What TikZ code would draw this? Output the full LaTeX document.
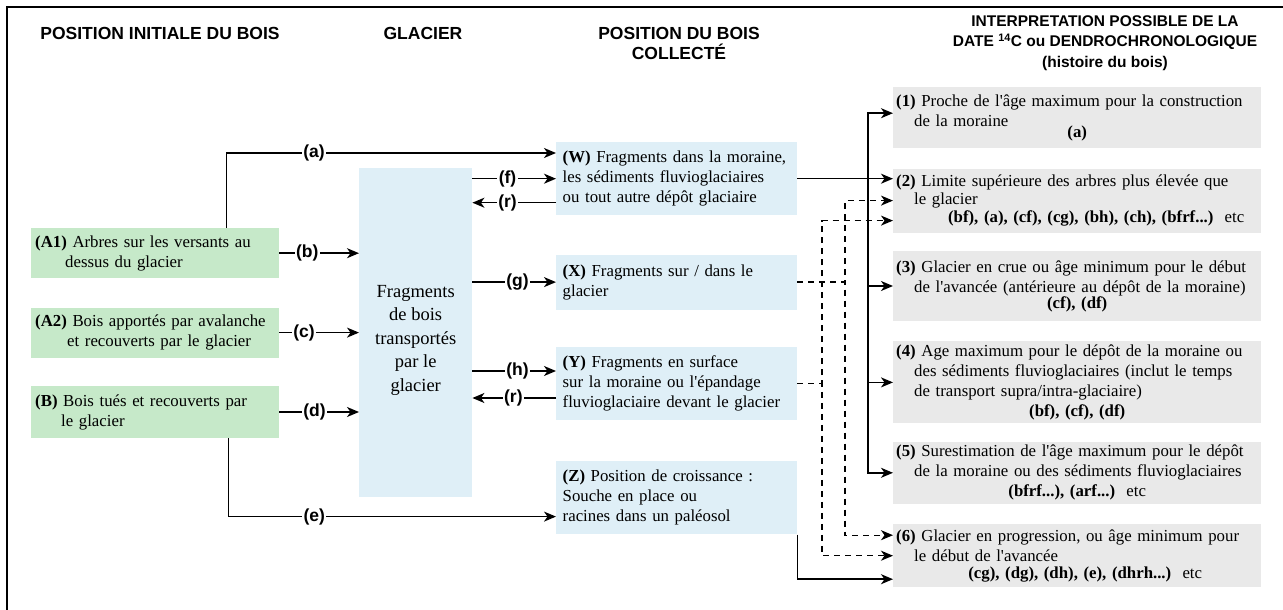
\documentclass[tikz,border=0pt]{standalone}
\usepackage{fontspec}
\setmainfont{Liberation Serif}
\setsansfont{Liberation Sans}
\usepackage{tikz}
\usetikzlibrary{arrows.meta}
\usetikzlibrary{positioning}
\definecolor{boisvert}{RGB}{198,233,201}
\definecolor{glacbleu}{RGB}{223,239,247}
\definecolor{interpgris}{RGB}{233,233,233}
\newcommand{\boxfont}{\fontsize{16.8}{20}\selectfont}
\newcommand{\glacfont}{\fontsize{18.5}{23.5}\selectfont}
\newcommand{\hdfont}{\sffamily\bfseries\fontsize{17.5}{20}\selectfont}
\newcommand{\hdsmall}{\sffamily\bfseries\fontsize{15.5}{20.5}\selectfont}
\newcommand{\labfont}{\sffamily\bfseries\fontsize{17.5}{20}\selectfont}
\newcommand{\apo}{\textquotesingle}
\tikzstyle{entete} = [font=\hdfont, align=center]
\tikzstyle{origine} = [fill=boisvert, text width=240pt, inner xsep=4pt,
    inner ysep=1pt, minimum height=50pt, align=left, font=\boxfont]
\tikzstyle{collecte} = [fill=glacbleu, text width=228pt, inner xsep=6.5pt,
    inner ysep=1pt, align=left, font=\boxfont]
\tikzstyle{interp} = [fill=interpgris, text width=362pt, inner xsep=3pt,
    inner ysep=1pt, align=left, font=\boxfont]
\tikzstyle{lab} = [font=\labfont, fill=white, inner sep=1.5pt]
\tikzstyle{arrow} = [line width=1.5pt,->]
\tikzstyle{dasharrow} = [line width=1.3pt,->,dash pattern=on 6pt off 5pt]

\begin{document}
\begin{tikzpicture}[x=1pt, y=-1pt, node distance=20pt,
    >={Stealth[length=12pt,width=10pt,inset=3.5pt]}]
\useasboundingbox (0,0) rectangle (1283,610);
\draw [line width=2.2pt] (7,7) rectangle (1300,630);

\node [entete] (tInit) at (160,33) {POSITION INITIALE DU BOIS};
\node [entete] (tGlac) at (423,33) {GLACIER};
\node [entete] (tColl) at (679,43) {POSITION DU BOIS\\COLLECTÉ};
\node [entete, font=\hdsmall] (tInterp) at (1105,43)
    {INTERPRETATION POSSIBLE DE LA\\DATE \textsuperscript{14}C ou DENDROCHRONOLOGIQUE\\(histoire du bois)};

\node [origine, anchor=north west] (A1) at (31,228)
    {\textbf{(A1)} Arbres sur les versants au\\\hspace*{30pt}dessus du glacier};
\node [origine, below=29pt of A1] (A2)
    {\textbf{(A2)} Bois apportés par avalanche\\\hspace*{32pt}et recouverts par le glacier};
\node [origine, below=28pt of A2, minimum height=52pt] (B)
    {\textbf{(B)} Bois tués et recouverts par\\\hspace*{26pt}le glacier};

\node [fill=glacbleu, minimum width=113pt, minimum height=329pt, inner sep=0pt,
    anchor=north west] (glac) at (359,168) {};
\node [font=\glacfont, align=center] (glacTxt) at ([yshift=-7.5pt]glac.center)
    {Fragments\\de bois\\transportés\\par le\\glacier};

\node [collecte, anchor=north west, minimum height=73pt] (W) at (556,142)
    {\textbf{(W)} Fragments dans la moraine,\\les sédiments fluvioglaciaires\\ou tout autre dépôt glaciaire};
\node [collecte, below=39pt of W, minimum height=55pt] (X)
    {\textbf{(X)} Fragments sur / dans le\\glacier};
\node [collecte, below=37pt of X, minimum height=73pt] (Y)
    {\textbf{(Y)} Fragments en surface\\sur la moraine ou l\apo épandage\\fluvioglaciaire devant le glacier};
\node [collecte, below=41pt of Y, minimum height=73pt] (Z)
    {\textbf{(Z)} Position de croissance :\\Souche en place ou\\racines dans un paléosol};

\node [interp, anchor=north west, minimum height=61pt] (I1) at (893,87)
    {\textbf{(1)} Proche de l\apo âge maximum pour la construction\\\hspace*{18pt}de la moraine\\[-9pt]\makebox[\linewidth]{\textbf{(a)}}};
\node [interp, below=20pt of I1, minimum height=64pt] (I2)
    {\textbf{(2)} Limite supérieure des arbres plus élevée que\\[-2pt]\hspace*{18pt}le glacier\\[-2pt]\makebox[\linewidth]{\hspace*{38pt}\textbf{(bf), (a), (cf), (cg), (bh), (ch), (bfrf...)}\ \ etc}};
\node [interp, below=18pt of I2, minimum height=70pt] (I3)
    {\textbf{(3)} Glacier en crue ou âge minimum pour le début\\\hspace*{18pt}de l\apo avancée (antérieure au dépôt de la moraine)\\[-4pt]\makebox[\linewidth]{\textbf{(cf), (df)}}};
\node [interp, below=20pt of I3, minimum height=82pt] (I4)
    {\textbf{(4)} Age maximum pour le dépôt de la moraine ou\\\hspace*{18pt}des sédiments fluvioglaciaires (inclut le temps\\\hspace*{18pt}de transport supra/intra-glaciaire)\\\makebox[\linewidth]{\textbf{(bf), (cf), (df)}}};
\node [interp, below=18pt of I4, minimum height=62pt] (I5)
    {\textbf{(5)} Surestimation de l\apo âge maximum pour le dépôt\\\hspace*{18pt}de la moraine ou des sédiments fluvioglaciaires\\\makebox[\linewidth]{\textbf{(bfrf...), (arf...)}\ \ etc}};
\node [interp, below=20pt of I5, minimum height=63pt] (I6)
    {\textbf{(6)} Glacier en progression, ou âge minimum pour\\\hspace*{18pt}le début de l\apo avancée\\[-3pt]\makebox[\linewidth]{\hspace*{16pt}\textbf{(cg), (dg), (dh), (e), (dhrh...)}\ \ etc}};

\coordinate (spine) at (868,0);
\coordinate (dashA) at (845,0);
\coordinate (dashB) at (822,0);
\coordinate (aW) at ([yshift=-11pt]W.north west);
\coordinate (eZ) at ([yshift=18pt]Z.south west);
\coordinate (rW) at ([yshift=-24pt]W.west);
\coordinate (hY) at ([yshift=12.5pt]Y.west);
\coordinate (rY) at ([yshift=-14.5pt]Y.west);
\coordinate (t1) at ([yshift=4.5pt]I1.west);
\coordinate (x2) at (I2.west);
\coordinate (y2) at ([yshift=-20pt]I2.west);
\coordinate (x6) at ([yshift=20.5pt]I6.west);
\coordinate (y6) at (I6.west);
\coordinate (z6) at ([yshift=-23.5pt]I6.west);

\draw [arrow] ([xshift=-53pt]A1.north east) |- node [lab, pos=0.633] {(a)} (aW);
\draw [arrow] (A1.east) -- node [lab, pos=0.35] {(b)} (A1.east -| glac.west);
\draw [arrow] (A2.east) -- node [lab, pos=0.31] {(c)} (A2.east -| glac.west);
\draw [arrow] (B.east) -- node [lab, pos=0.44] {(d)} (B.east -| glac.west);
\draw [arrow] ([xshift=-51pt]B.south east) |- node [lab, pos=0.631] {(e)} (eZ);

\draw [arrow] (glac.east |- W.west) -- node [lab, pos=0.42] {(f)} (W.west);
\draw [arrow] (rW) -- node [lab, pos=0.58] {(r)} (rW -| glac.east);
\draw [arrow] (glac.east |- X.west) -- node [lab, pos=0.54] {(g)} (X.west);
\draw [arrow] (glac.east |- hY) -- node [lab, pos=0.54] {(h)} (hY);
\draw [arrow] (rY) -- node [lab, pos=0.51] {(r)} (rY -| glac.east);

\draw [arrow] (W.east) -- (W.east -| I2.west);
\draw [arrow] (W.east -| spine) |- (t1);
\draw [arrow] (W.east -| spine) |- (I5.west);
\draw [arrow] (spine |- I3.west) -- (I3.west);
\draw [arrow] (spine |- I4.west) -- (I4.west);

\draw [dasharrow] (X.east) -| (x2 -| dashA) -- (x2);
\draw [dasharrow] (X.east) -| (x6 -| dashA) -- (x6);
\draw [dasharrow] (Y.east) -| (y2 -| dashB) -- (y2);
\draw [dasharrow] (Y.east) -| (y6 -| dashB) -- (y6);
\draw [arrow] (Z.south east) |- (z6);
\end{tikzpicture}
\end{document}
